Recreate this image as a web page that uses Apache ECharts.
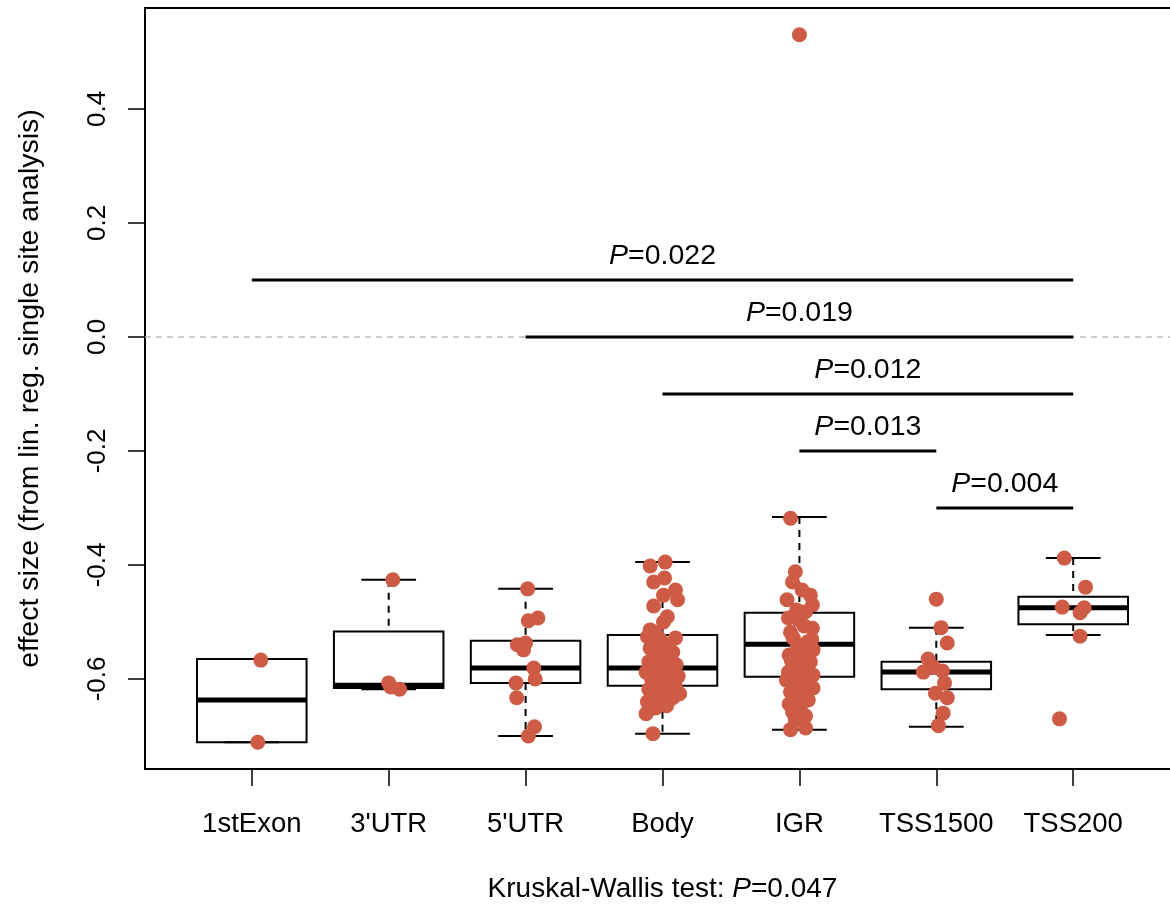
<!DOCTYPE html>
<html>
<head>
<meta charset="utf-8">
<script src="https://cdn.jsdelivr.net/npm/echarts@6/dist/echarts.min.js"></script>
<style>
  html, body { margin: 0; padding: 0; background: #fff; }
  #chart { width: 1170px; height: 905px; }
</style>
</head>
<body>
<div id="chart"></div>
<script>
const FONT = "'Liberation Sans', Arial, sans-serif";

const categories = ["1stExon", "3'UTR", "5'UTR", "Body", "IGR", "TSS1500", "TSS200"];

// box statistics per category
const whiskerLow = [-0.711, -0.618, -0.700, -0.696, -0.689, -0.684, -0.523];
const lowerHinge = [-0.711, -0.616, -0.607, -0.612, -0.596, -0.618, -0.504];
const medians = [-0.637, -0.611, -0.581, -0.581, -0.539, -0.588, -0.475];
const upperHinge = [-0.565, -0.517, -0.533, -0.523, -0.484, -0.570, -0.456];
const whiskerHigh = [-0.565, -0.426, -0.442, -0.395, -0.316, -0.510, -0.388];

// single sites: [jitter (category units), effect size]
const exonPts = [[0.066, -0.567], [0.044, -0.711]];
const utr3Pts = [[0.03, -0.426], [0.0, -0.607], [0.015, -0.614], [0.08, -0.618]];
const utr5Pts = [
  [0.015, -0.442], [0.09, -0.493], [0.02, -0.498], [-0.06, -0.540], [0.0, -0.537],
  [-0.015, -0.549], [0.06, -0.581], [0.07, -0.600], [-0.07, -0.607], [-0.065, -0.633],
  [0.065, -0.684], [0.02, -0.700]
];
const bodyPts = [
  [0.02, -0.395], [-0.09, -0.402], [-0.065, -0.430], [0.015, -0.423], [0.095, -0.444],
  [0.11, -0.461], [0.007, -0.453], [-0.065, -0.472], [0.035, -0.491], [0.007, -0.500],
  [-0.09, -0.514], [0.095, -0.528], [-0.11, -0.526], [-0.05, -0.519], [-0.015, -0.531],
  [0.045, -0.540], [-0.09, -0.546], [0.075, -0.553], [-0.045, -0.558], [0.007, -0.567],
  [-0.1, -0.570], [0.1, -0.575], [-0.06, -0.581], [0.035, -0.584], [-0.12, -0.588],
  [-0.015, -0.591], [0.115, -0.595], [-0.08, -0.600], [0.06, -0.604], [-0.035, -0.609],
  [0.095, -0.614], [-0.1, -0.618], [0.007, -0.623], [0.125, -0.626], [-0.07, -0.632],
  [0.06, -0.635], [-0.11, -0.640], [-0.015, -0.644], [0.08, -0.632], [-0.05, -0.651],
  [-0.1, -0.654], [0.03, -0.647], [-0.12, -0.661], [-0.07, -0.696], [-0.015, -0.549],
  [0.05, -0.570], [-0.03, -0.612]
];
const igrPts = [
  [0.0, 0.530],
  [-0.065, -0.318], [-0.03, -0.412], [-0.05, -0.430], [0.08, -0.453], [-0.09, -0.461],
  [0.095, -0.470], [0.045, -0.482], [-0.08, -0.493], [0.095, -0.511], [-0.065, -0.518],
  [-0.007, -0.496], [-0.045, -0.528], [0.06, -0.535], [0.007, -0.546], [0.1, -0.549],
  [-0.075, -0.558], [0.03, -0.561], [0.08, -0.570], [-0.035, -0.575], [0.05, -0.582],
  [-0.08, -0.588], [0.1, -0.593], [0.0, -0.596], [-0.095, -0.602], [0.065, -0.605],
  [-0.03, -0.612], [0.1, -0.616], [-0.065, -0.623], [0.03, -0.626], [-0.02, -0.633],
  [0.065, -0.637], [-0.075, -0.644], [0.007, -0.651], [-0.05, -0.658], [0.045, -0.665],
  [-0.03, -0.672], [-0.065, -0.689], [0.045, -0.686], [-0.015, -0.540], [0.035, -0.507],
  [-0.06, -0.567], [0.09, -0.531], [0.02, -0.444], [-0.02, -0.479]
];
const tss1500Pts = [
  [0.0, -0.460], [0.035, -0.510], [0.08, -0.537], [-0.06, -0.565], [-0.02, -0.579],
  [-0.095, -0.588], [0.045, -0.586], [0.06, -0.607], [-0.007, -0.625], [0.08, -0.633],
  [0.05, -0.660], [0.015, -0.682]
];
const tss200Pts = [
  [-0.065, -0.388], [0.09, -0.439], [-0.08, -0.474], [0.08, -0.475], [0.05, -0.484],
  [0.05, -0.525], [-0.1, -0.670]
];
const groupPoints = [exonPts, utr3Pts, utr5Pts, bodyPts, igrPts, tss1500Pts, tss200Pts];

// pairwise comparisons (1-based category positions)
const sigFrom = [1, 3, 4, 5, 6];
const sigTo = [7, 7, 7, 6, 7];
const sigY = [0.1, 0.0, -0.1, -0.2, -0.3];
const sigP = ["0.022", "0.019", "0.012", "0.013", "0.004"];

const yTicks = [-0.6, -0.4, -0.2, 0.0, 0.2, 0.4];
const xTicks = [1, 2, 3, 4, 5, 6, 7];
const refLine = [0];

const boxData = categories.map((c, i) => [i + 1, whiskerLow[i], lowerHinge[i], medians[i], upperHinge[i], whiskerHigh[i]]);
const scatterData = [];
groupPoints.forEach((pts, i) => {
  pts.forEach(p => scatterData.push([i + 1 + p[0], p[1]]));
});
const sigData = sigFrom.map((f, i) => [f, sigTo[i], sigY[i], sigP[i]]);

function renderBox(params, api) {
  const x = api.value(0);
  const lo = api.coord([x, api.value(1)]);
  const q1 = api.coord([x, api.value(2)]);
  const med = api.coord([x, api.value(3)]);
  const q3 = api.coord([x, api.value(4)]);
  const hi = api.coord([x, api.value(5)]);
  const half = api.size([0.4, 0])[0];
  const cap = half / 2;
  const dash = { stroke: "#000", lineWidth: 2, lineDash: [7, 6] };
  const solid = { stroke: "#000", lineWidth: 2 };
  return {
    type: "group",
    children: [
      { type: "line", shape: { x1: hi[0], y1: hi[1], x2: q3[0], y2: q3[1] }, style: dash },
      { type: "line", shape: { x1: q1[0], y1: q1[1], x2: lo[0], y2: lo[1] }, style: dash },
      { type: "line", shape: { x1: hi[0] - cap, y1: hi[1], x2: hi[0] + cap, y2: hi[1] }, style: solid },
      { type: "line", shape: { x1: lo[0] - cap, y1: lo[1], x2: lo[0] + cap, y2: lo[1] }, style: solid },
      { type: "rect", shape: { x: q3[0] - half, y: q3[1], width: half * 2, height: q1[1] - q3[1] },
        style: { fill: "none", stroke: "#000", lineWidth: 2 } },
      { type: "line", shape: { x1: med[0] - half, y1: med[1], x2: med[0] + half, y2: med[1] },
        style: { stroke: "#000", lineWidth: 5 } }
    ]
  };
}

function renderRef(params, api) {
  const cs = params.coordSys;
  const p = api.coord([1, api.value(0)]);
  return {
    type: "line",
    shape: { x1: cs.x, y1: p[1], x2: cs.x + cs.width, y2: p[1] },
    style: { stroke: "#bdbdbd", lineWidth: 1.5, lineDash: [6, 5] }
  };
}

function renderSig(params, api) {
  const a = api.coord([api.value(0), api.value(2)]);
  const b = api.coord([api.value(1), api.value(2)]);
  const p = sigData[params.dataIndex][3];
  return {
    type: "group",
    children: [
      { type: "line", shape: { x1: a[0], y1: a[1], x2: b[0], y2: b[1] },
        style: { stroke: "#000", lineWidth: 3 } },
      { type: "text",
        style: {
          x: (a[0] + b[0]) / 2, y: a[1] - 24,
          text: "{i|P}=" + p,
          align: "center", verticalAlign: "middle",
          fontSize: 28.5, fontFamily: FONT, fill: "#000",
          rich: { i: { fontStyle: "italic", fontSize: 28.5, fontFamily: FONT, fill: "#000" } }
        } }
    ]
  };
}

const chart = echarts.init(document.getElementById("chart"));
chart.setOption({
  animation: false,
  backgroundColor: "#fff",
  grid: {
    left: 145, top: 8, width: 1035, height: 761,
    show: true, borderColor: "#000", borderWidth: 2,
    outerBoundsMode: "none"
  },
  xAxis: {
    type: "value", min: 0.22, max: 7.78,
    splitLine: { show: false },
    axisLine: { show: false, onZero: false },
    axisTick: { show: true, customValues: xTicks, length: 17, lineStyle: { color: "#000", width: 1.5 } },
    axisLabel: {
      customValues: xTicks, margin: 41, fontSize: 27.5, fontFamily: FONT, color: "#000",
      formatter: v => categories[Math.round(v) - 1]
    },
    name: "Kruskal-Wallis test: {i|P}=0.047",
    nameLocation: "middle", nameGap: 106,
    nameTextStyle: {
      fontSize: 28, fontFamily: FONT, color: "#000",
      rich: { i: { fontStyle: "italic", fontSize: 28, fontFamily: FONT, color: "#000" } }
    }
  },
  yAxis: {
    type: "value", min: -0.758, max: 0.577,
    splitLine: { show: false },
    axisLine: { show: false, onZero: false },
    axisTick: { show: true, customValues: yTicks, length: 17, lineStyle: { color: "#000", width: 1.5 } },
    axisLabel: {
      customValues: yTicks, rotate: 90, margin: 34, fontSize: 26, fontFamily: FONT, color: "#000",
      formatter: v => v.toFixed(1)
    },
    name: "effect size (from lin. reg. single site analysis)",
    nameLocation: "middle", nameGap: 100,
    nameTextStyle: { fontSize: 28.5, fontFamily: FONT, color: "#000" }
  },
  series: [
    {
      type: "custom", name: "zero", renderItem: renderRef, data: refLine,
      encode: { y: 0 }, silent: true, z: 1
    },
    {
      type: "custom", name: "boxes", renderItem: renderBox, data: boxData,
      encode: { x: 0, y: [1, 2, 3, 4, 5] }, silent: true, z: 2
    },
    {
      type: "scatter", name: "sites", data: scatterData,
      symbolSize: 15, itemStyle: { color: "#CD5B45", opacity: 1 }, z: 3
    },
    {
      type: "custom", name: "comparisons", renderItem: renderSig, data: sigData,
      encode: { x: [0, 1], y: 2 }, silent: true, z: 4
    }
  ]
});
</script>
</body>
</html>
